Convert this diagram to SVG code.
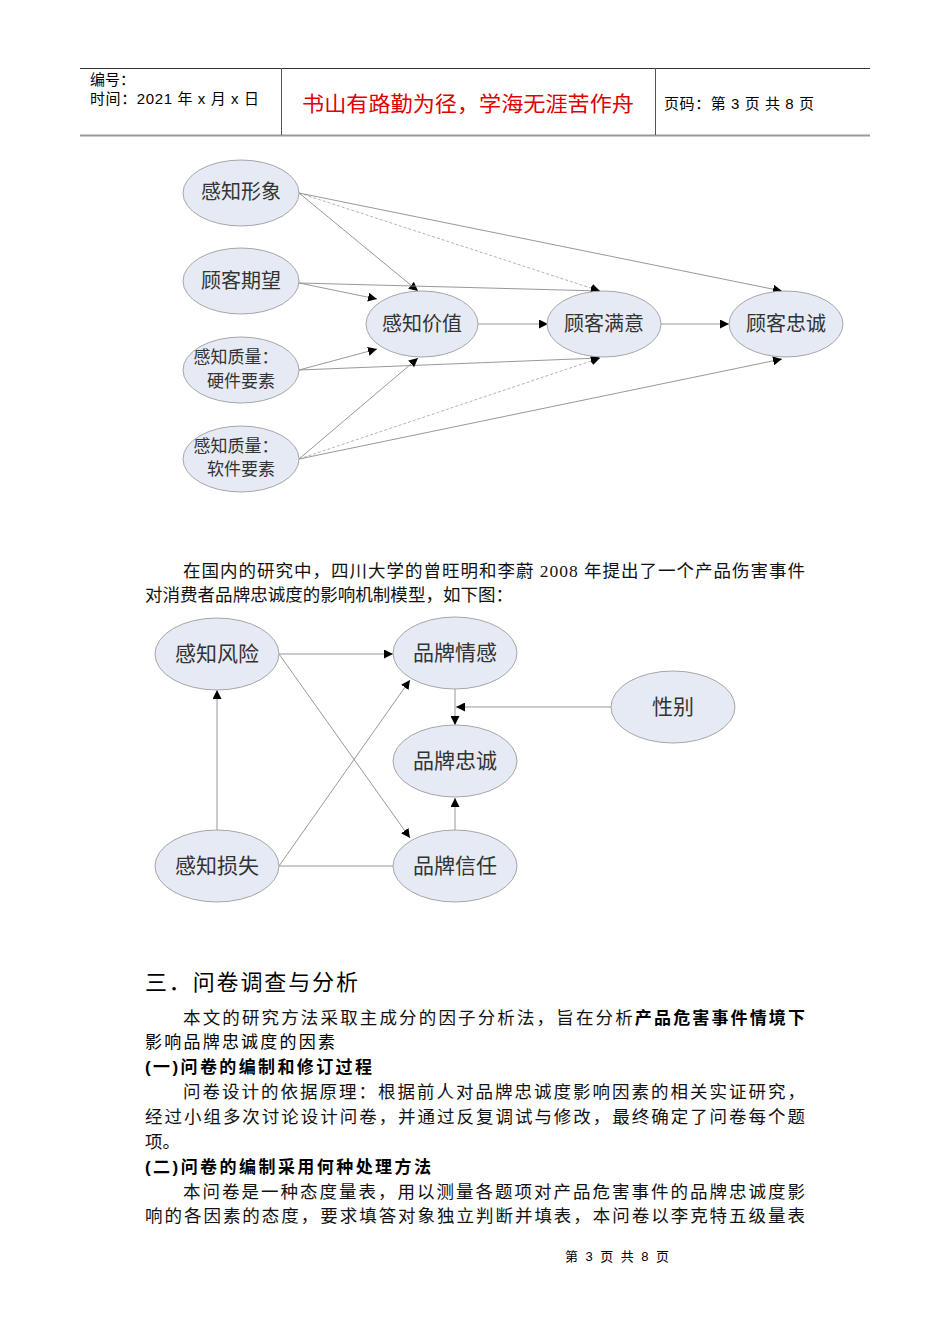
<svg xmlns="http://www.w3.org/2000/svg" width="950" height="1344" viewBox="0 0 950 1344">
<style>
.bg{fill:#ffffff}
.node ellipse{fill:#e6eaf5;stroke:#a6a6a6;stroke-width:1}
.nt{font-family:"Liberation Sans","Noto Sans CJK SC",sans-serif;fill:#333333;text-anchor:middle}
.e{stroke:#8c8c8c;stroke-width:0.9;fill:none}
.ed{stroke:#aaaaaa;stroke-width:0.9;fill:none;stroke-dasharray:3 2}
.body{font-family:"Liberation Serif","Noto Sans CJK SC",serif;font-size:17.5px;fill:#111}
.hei{font-family:"Liberation Sans","Noto Sans CJK SC",sans-serif;fill:#000}
.hdr{font-family:"Liberation Sans","Noto Sans CJK SC",sans-serif;font-size:15px;fill:#000}
</style>
<defs>
<marker id="arr" viewBox="0 0 10 10" refX="10" refY="5" markerWidth="9" markerHeight="9" markerUnits="userSpaceOnUse" orient="auto">
<path d="M0,0 L10,5 L0,10 z" fill="#000"/>
</marker>
</defs>
<rect class="bg" x="0" y="0" width="950" height="1344"/>

<g id="header">
<line x1="80" y1="68.5" x2="870" y2="68.5" stroke="#333" stroke-width="1"/>
<line x1="80" y1="135.5" x2="870" y2="135.5" stroke="#999" stroke-width="2"/>
<line x1="281.5" y1="68" x2="281.5" y2="135" stroke="#555" stroke-width="1"/>
<line x1="655.5" y1="68" x2="655.5" y2="135" stroke="#555" stroke-width="1"/>
<text class="hdr" x="90" y="85">编号：</text>
<text class="hdr" x="90" y="104" textLength="169" lengthAdjust="spacing">时间：2021 年 x 月 x 日</text>
<text x="302" y="111" font-family="Liberation Sans,Noto Sans CJK SC,sans-serif" font-size="21" fill="#e00000" textLength="332" lengthAdjust="spacingAndGlyphs">书山有路勤为径，学海无涯苦作舟</text>
<text class="hdr" x="664" y="109" textLength="150" lengthAdjust="spacing">页码：第 3 页  共 8 页</text>
</g>

<g id="connectors1">
<line class="e" x1="299" y1="193" x2="418" y2="291" marker-end="url(#arr)"/>
<line class="ed" x1="299" y1="193" x2="600" y2="291" marker-end="url(#arr)"/>
<line class="e" x1="299" y1="193" x2="782" y2="291" marker-end="url(#arr)"/>
<line class="e" x1="299" y1="283" x2="377" y2="299" marker-end="url(#arr)"/>
<line class="e" x1="299" y1="283" x2="600" y2="291" marker-end="url(#arr)"/>
<line class="e" x1="299" y1="370" x2="377" y2="349" marker-end="url(#arr)"/>
<line class="e" x1="299" y1="370" x2="600" y2="358" marker-end="url(#arr)"/>
<line class="e" x1="299" y1="459" x2="418" y2="358" marker-end="url(#arr)"/>
<line class="ed" x1="299" y1="459" x2="600" y2="358" marker-end="url(#arr)"/>
<line class="e" x1="299" y1="459" x2="782" y2="359" marker-end="url(#arr)"/>
<line class="e" x1="478" y1="324" x2="548" y2="324" marker-end="url(#arr)"/>
<line class="e" x1="661" y1="324" x2="729" y2="324" marker-end="url(#arr)"/>
</g>

<g id="n_image" class="node"><ellipse cx="241" cy="193" rx="58" ry="33"/><text class="nt" x="241" y="199" font-size="20">感知形象</text></g>
<g id="n_expect" class="node"><ellipse cx="241" cy="281" rx="58" ry="33"/><text class="nt" x="241" y="288" font-size="20">顾客期望</text></g>
<g id="n_hard" class="node"><ellipse cx="241" cy="370" rx="58" ry="33"/><text class="nt" x="236" y="363" font-size="17">感知质量：</text><text class="nt" x="241" y="387" font-size="17">硬件要素</text></g>
<g id="n_soft" class="node"><ellipse cx="241" cy="459" rx="58" ry="33"/><text class="nt" x="236" y="452" font-size="17">感知质量：</text><text class="nt" x="241" y="475" font-size="17">软件要素</text></g>
<g id="n_value" class="node"><ellipse cx="422" cy="324" rx="56" ry="33"/><text class="nt" x="422" y="331" font-size="20">感知价值</text></g>
<g id="n_satis" class="node"><ellipse cx="604" cy="324" rx="57" ry="33"/><text class="nt" x="604" y="331" font-size="20">顾客满意</text></g>
<g id="n_loyal" class="node"><ellipse cx="786" cy="324" rx="57" ry="33"/><text class="nt" x="786" y="331" font-size="20">顾客忠诚</text></g>

<g id="para1">
<text class="body" x="183" y="577" textLength="622" lengthAdjust="spacing">在国内的研究中，四川大学的曾旺明和李蔚 2008 年提出了一个产品伤害事件</text>
<text class="body" x="145" y="601" textLength="368" lengthAdjust="spacing">对消费者品牌忠诚度的影响机制模型，如下图：</text>
</g>

<g id="connectors2">
<line class="e" x1="279" y1="654" x2="393" y2="654" marker-end="url(#arr)"/>
<line class="e" x1="279" y1="654" x2="410" y2="838" marker-end="url(#arr)"/>
<line class="e" x1="279" y1="866" x2="410" y2="680" marker-end="url(#arr)"/>
<line class="e" x1="217" y1="830" x2="217" y2="690" marker-end="url(#arr)"/>
<line class="e" x1="279" y1="866" x2="393" y2="866"/>
<line class="e" x1="455" y1="689" x2="455" y2="725" marker-end="url(#arr)"/>
<line class="e" x1="611" y1="707" x2="456" y2="707" marker-end="url(#arr)"/>
<line class="e" x1="455" y1="830" x2="455" y2="798" marker-end="url(#arr)"/>
</g>

<g id="n_risk" class="node"><ellipse cx="217" cy="654" rx="62" ry="36"/><text class="nt" x="217" y="661" font-size="21">感知风险</text></g>
<g id="n_emotion" class="node"><ellipse cx="455" cy="653" rx="62" ry="36"/><text class="nt" x="455" y="660" font-size="21">品牌情感</text></g>
<g id="n_gender" class="node"><ellipse cx="673" cy="707" rx="62" ry="36"/><text class="nt" x="673" y="714" font-size="21">性别</text></g>
<g id="n_bloyal" class="node"><ellipse cx="455" cy="761" rx="62" ry="36"/><text class="nt" x="455" y="768" font-size="21">品牌忠诚</text></g>
<g id="n_loss" class="node"><ellipse cx="217" cy="866" rx="62" ry="36"/><text class="nt" x="217" y="873" font-size="21">感知损失</text></g>
<g id="n_trust" class="node"><ellipse cx="455" cy="866" rx="62" ry="36"/><text class="nt" x="455" y="873" font-size="21">品牌信任</text></g>

<g id="section3">
<text class="hei" x="145" y="990" font-size="22" textLength="213" lengthAdjust="spacing">三．问卷调查与分析</text>
<text class="body" x="183" y="1024" textLength="622" lengthAdjust="spacing">本文的研究方法采取主成分的因子分析法，旨在分析<tspan class="hei" font-size="17" font-weight="bold">产品危害事件情境下</tspan></text>
<text class="hei" x="145" y="1048" font-size="17" textLength="190" lengthAdjust="spacing">影响品牌忠诚度的因素</text>
<text class="hei" x="145" y="1073" font-size="17" font-weight="bold" textLength="227" lengthAdjust="spacing">(一)问卷的编制和修订过程</text>
<text class="body" x="183" y="1098" textLength="622" lengthAdjust="spacing">问卷设计的依据原理：根据前人对品牌忠诚度影响因素的相关实证研究，</text>
<text class="body" x="145" y="1123" textLength="660" lengthAdjust="spacing">经过小组多次讨论设计问卷，并通过反复调试与修改，最终确定了问卷每个题</text>
<text class="body" x="145" y="1148">项。</text>
<text class="hei" x="145" y="1173" font-size="17" font-weight="bold" textLength="286" lengthAdjust="spacing">(二)问卷的编制采用何种处理方法</text>
<text class="body" x="183" y="1198" textLength="622" lengthAdjust="spacing">本问卷是一种态度量表，用以测量各题项对产品危害事件的品牌忠诚度影</text>
<text class="body" x="145" y="1222" textLength="660" lengthAdjust="spacing">响的各因素的态度，要求填答对象独立判断并填表，本问卷以李克特五级量表</text>
</g>

<g id="footer">
<text x="565" y="1261" font-family="Liberation Sans,Noto Sans CJK SC,sans-serif" font-size="13" fill="#000" textLength="104" lengthAdjust="spacing">第 3 页 共 8 页</text>
</g>
</svg>
